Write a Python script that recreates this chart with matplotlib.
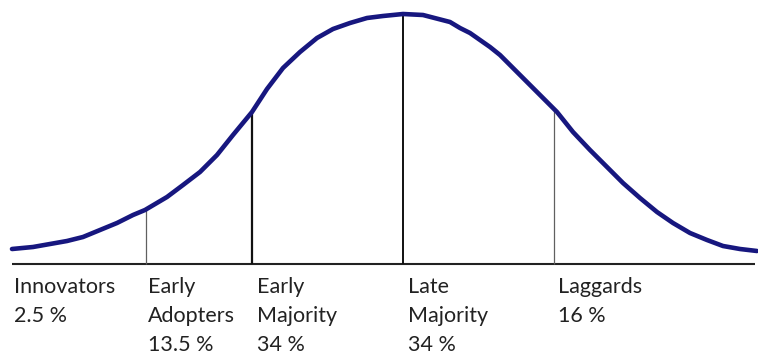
import matplotlib
matplotlib.use("Agg")
import matplotlib.pyplot as plt

# Bell curve: x position and height above the baseline
curve_x = [12, 33, 50, 67, 83, 100, 117, 133, 145, 167, 183, 200, 217, 233, 252,
           267, 283, 300, 317, 333, 350, 367, 383, 403, 423, 450, 460, 470, 480,
           490, 500, 510, 520, 530, 540, 550, 557, 573, 590, 607, 623, 640, 657,
           673, 690, 707, 723, 740, 757]
curve_h = [15, 17, 20, 23, 27, 34, 41, 49, 54, 67, 79, 92, 109, 129, 152,
           175, 196, 212, 226, 235, 241, 246, 248, 250, 249, 242, 236, 231, 224,
           217, 209, 199, 189, 179, 169, 159, 152, 132, 114, 97, 81, 66, 52,
           41, 31, 24, 18, 15, 13]

# Segment dividers
divider_x = [146, 252, 403, 554]
divider_top = [54, 152, 250, 154]
divider_color = ["#606060", "#111111", "#111111", "#606060"]
divider_lw = [0.9, 1.6, 1.4, 0.9]

# Category labels and shares
label_x = [14, 148, 257, 408, 558]
label_names = [["Innovators"], ["Early", "Adopters"], ["Early", "Majority"],
               ["Late", "Majority"], ["Laggards"]]
label_shares = ["2.5 %", "13.5 %", "34 %", "34 %", "16 %"]

W, H = 758, 356
fig = plt.figure(figsize=(W / 100, H / 100), dpi=100)
ax = fig.add_axes([0, 0, 1, 1])
ax.set_xlim(0, W)
ax.set_ylim(-92, 264)
ax.axis("off")

# baseline
ax.plot([12, 755], [0, 0], color="#222222", lw=1.5, solid_capstyle="butt")

for x, top, c, lw in zip(divider_x, divider_top, divider_color, divider_lw):
    ax.plot([x, x], [0, top], color=c, lw=lw, solid_capstyle="butt")

ax.plot(curve_x, curve_h, color="#17177f", lw=3.3, solid_joinstyle="round",
        solid_capstyle="round")

row_base = [-29, -58, -87]
font = dict(family=["Lato", "DejaVu Sans"], fontsize=15.5, color="#222222")
for x, names, share in zip(label_x, label_names, label_shares):
    lines = names + [share]
    for i, t in enumerate(lines):
        ax.text(x, row_base[i], t, ha="left", va="baseline", **font)

fig.savefig("out.png", dpi=100)
